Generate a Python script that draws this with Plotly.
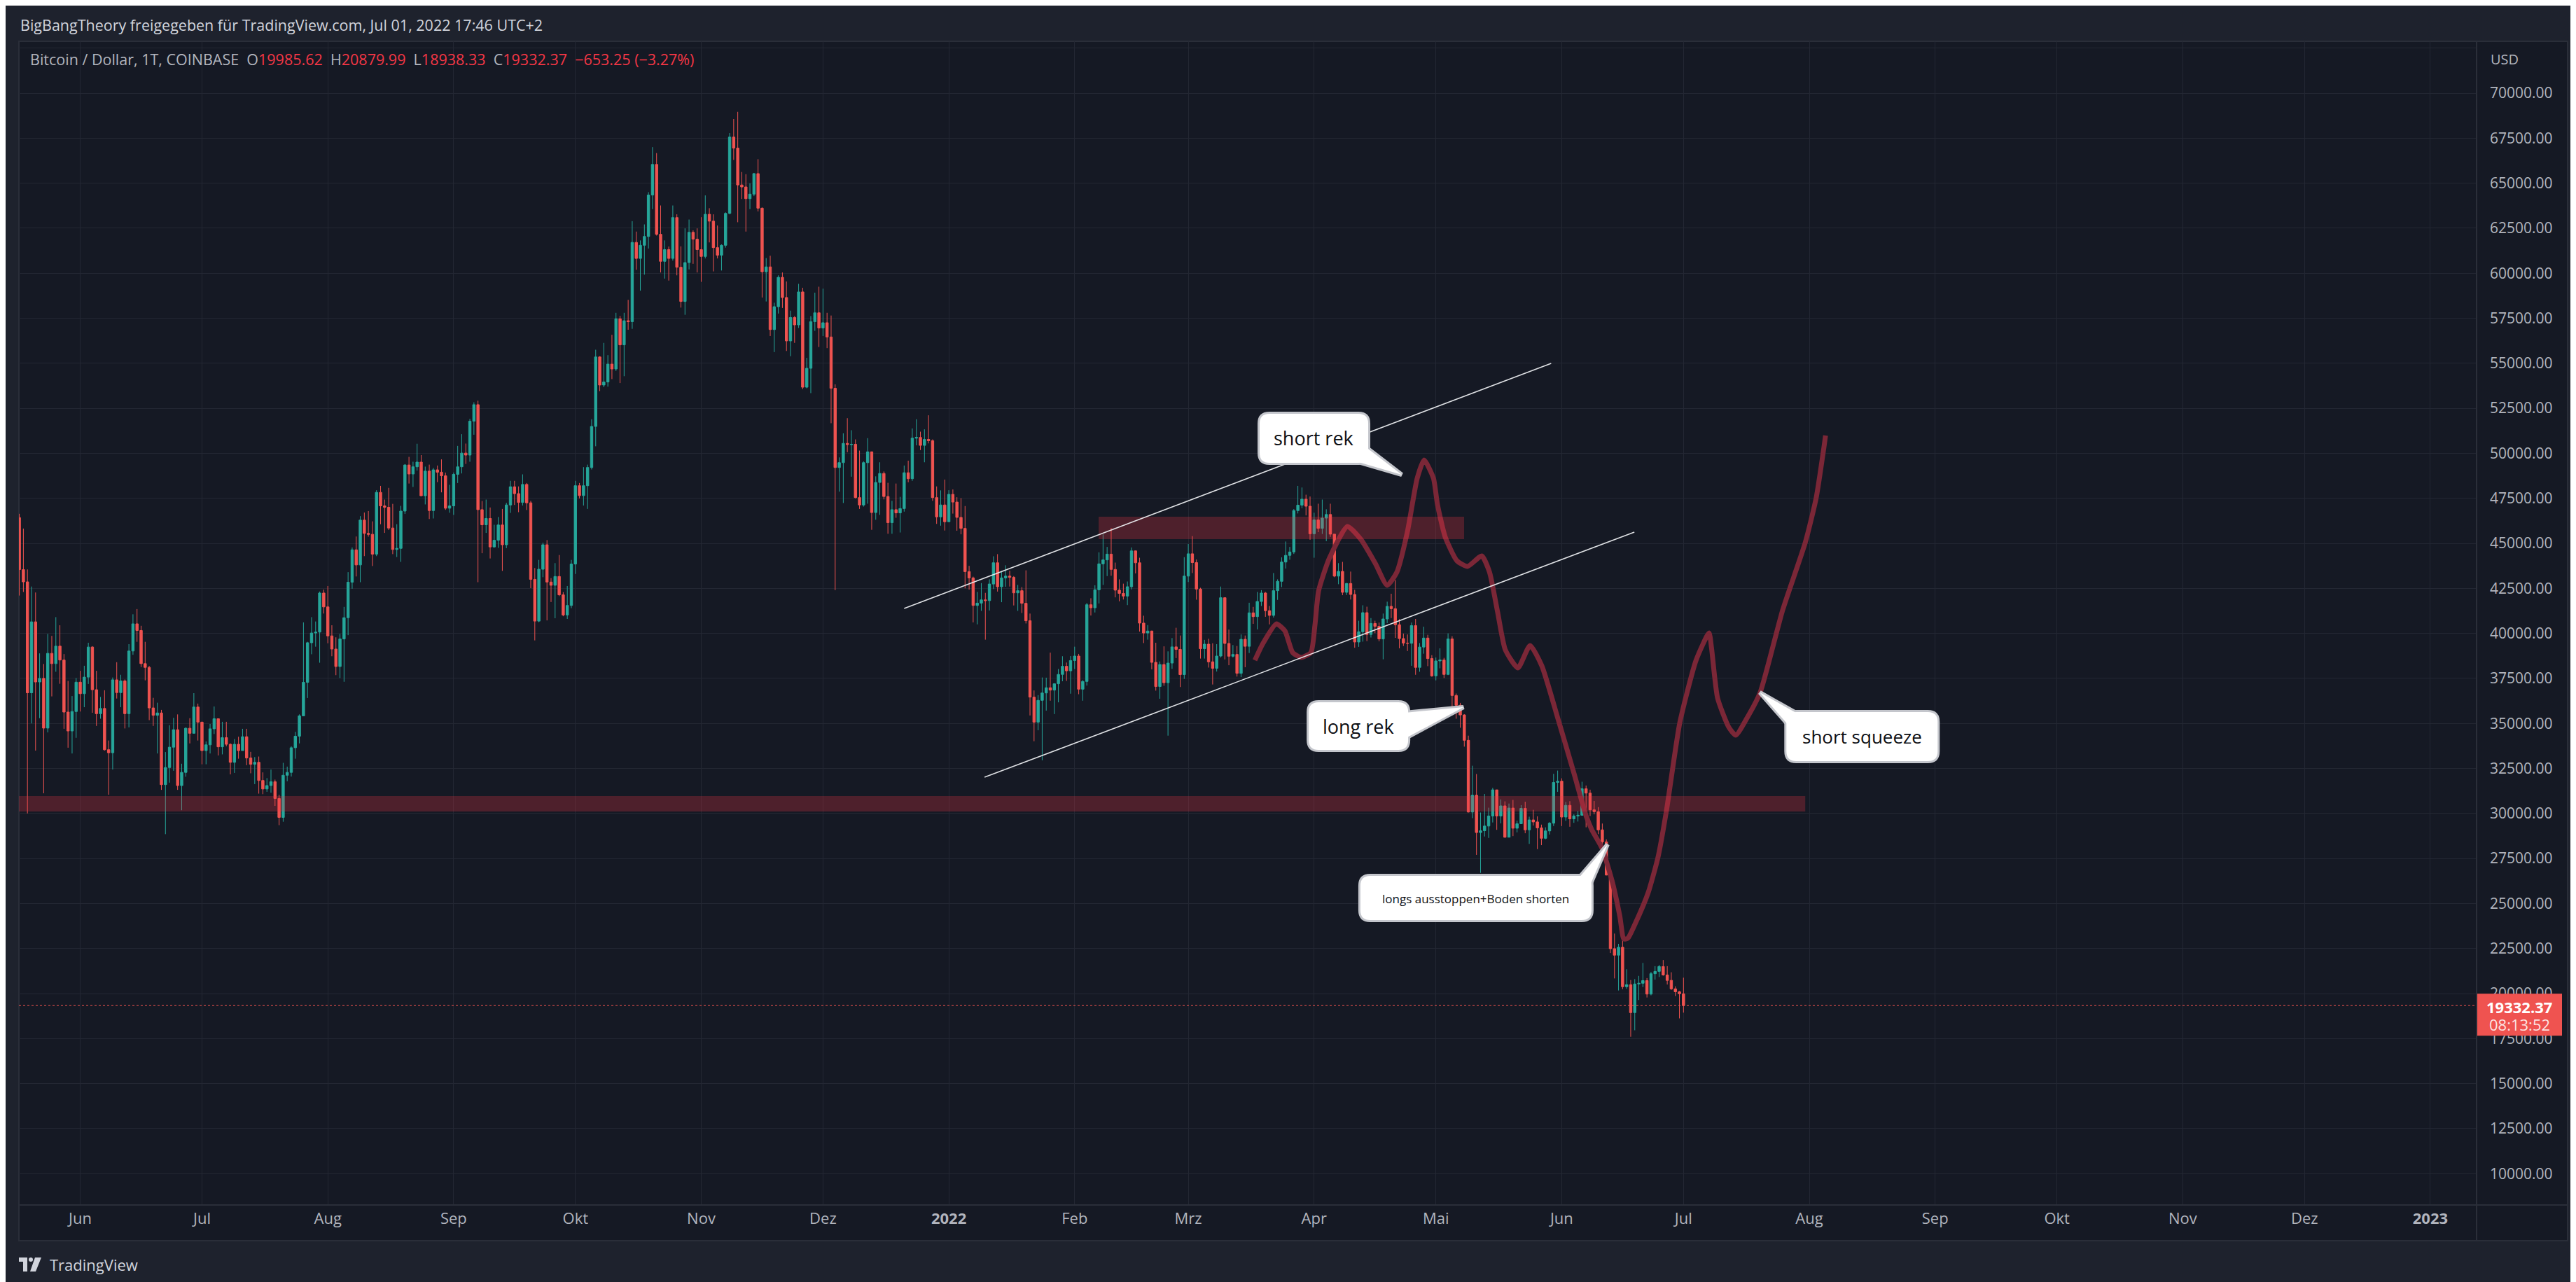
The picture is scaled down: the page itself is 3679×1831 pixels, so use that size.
import pandas as pd
import plotly.graph_objects as go

# ------------------------------------------------------------------ data
START = "2021-05-17"          # first daily candle
first_open = 46430.0

close = [
    # May 2021 (17-31)
    43540, 42860, 36700, 40640, 37300, 37500, 34740, 38890, 38320, 39290, 38520, 35630, 34580, 35660, 37290,
    # Jun 2021
    36650, 37570, 39240, 36870, 35540, 35830, 33540, 33370, 37420, 36710, 37360, 35540, 39020, 40530, 40160,
    38320, 38110, 35860, 35450, 35580, 31600, 32550, 33680, 34650, 31550, 32280, 34730, 34450, 35910, 35070,
    # Jul 2021
    33490, 33810, 34700, 35260, 33700, 34210, 33840, 32840, 33840, 33490, 34260, 33080, 32730, 32840, 31830,
    31360, 31550, 31760, 30830, 29780, 32120, 32280, 33650, 34290, 35420, 37280, 39480, 40020, 40070, 42240, 41470,
    # Aug 2021
    39860, 39130, 38160, 39690, 40870, 42840, 44640, 43800, 46290, 45550, 45500, 44400, 47830, 47080, 47000,
    45850, 44660, 44720, 46790, 49350, 48850, 49250, 49510, 47640, 49010, 46820, 49080, 48950, 48750, 46950, 47080,
    # Sep 2021
    48830, 49250, 50010, 49900, 51780, 52700, 46870, 46030, 46380, 44800, 45170, 46020, 44920, 47130, 48140,
    47760, 47270, 48270, 47250, 43000, 40680, 43560, 44920, 42850, 42670, 43160, 42140, 41020, 41550, 43850,
    # Oct 2021
    48200, 47650, 48200, 49210, 51490, 55350, 53790, 53960, 54950, 54680, 57470, 56020, 57360, 57310, 61710,
    60820, 61550, 62040, 64340, 66040, 62160, 60660, 61310, 60820, 63090, 60330, 58430, 60590, 62270, 61890, 61310,
    # Nov 2021
    60930, 63270, 62890, 61420, 61000, 61550, 63320, 67560, 66950, 64900, 64790, 64140, 64390, 65530, 63610,
    60080, 60350, 56870, 58140, 59770, 58650, 56240, 57540, 57130, 58960, 53670, 54720, 57310, 57800, 56960,
    # Dec 2021
    57250, 56460, 53610, 49210, 49480, 50550, 50480, 50500, 47540, 47130, 49480, 50080, 46710, 48380, 48880,
    47600, 46150, 46870, 46690, 46930, 48920, 48590, 50840, 50880, 50440, 50770, 50700, 47540, 46470, 47130, 46200,
    # Jan 2022
    47720, 47290, 46440, 45830, 43430, 43080, 41550, 41680, 41860, 41820, 42740, 43920, 42590, 43080, 43180,
    43110, 42250, 42370, 41670, 40700, 36460, 35070, 36280, 36690, 36980, 36850, 37200, 37720, 38170, 37920, 38490,
    # Feb 2022
    38740, 36900, 37330, 41590, 41420, 42420, 43860, 44080, 44400, 43550, 42400, 42220, 42070, 42590, 44580,
    43920, 40570, 40020, 40130, 38390, 37050, 38270, 37260, 38350, 39250, 39110, 37710, 43180,
    # Mar 2022
    44420, 43930, 42460, 39150, 39400, 38420, 38060, 38740, 41980, 39440, 38730, 38830, 37780, 39670, 39280,
    41140, 40930, 41770, 42240, 41260, 41000, 42370, 42890, 43960, 44330, 44520, 46820, 47120, 47450, 47060, 45530,
    # Apr 2022
    46300, 45830, 46400, 46600, 45510, 43180, 43440, 42280, 42770, 42160, 39520, 40090, 41150, 39940, 40550,
    40390, 39690, 40800, 41500, 41370, 40480, 39710, 39460, 39450, 40430, 38110, 39240, 39740, 38600, 37640,
    # May 2022
    38470, 38520, 37720, 39690, 36550, 36010, 35470, 34060, 30080, 31010, 28940, 29040, 29300, 29860, 31310,
    29860, 30420, 28680, 30300, 29180, 29430, 30280, 29090, 29640, 29530, 29200, 28620, 29030, 29460, 31720, 31790,
    # Jun 2022
    29800, 30450, 29700, 29860, 29900, 31370, 31130, 30200, 30100, 29090, 28420, 26580, 22490, 22130, 22570,
    20380, 20490, 18940, 20530, 20570, 20720, 19970, 21100, 21230, 21500, 21030, 20730, 20260, 20100, 19985.62,
    # Jul 1 2022
    19332.37,
]

high = [
    46640, 45820, 43550, 42600, 42270, 38890, 38300, 39970, 39860, 40900, 40450, 38850, 37360, 36520, 37520,
    37920, 38200, 39480, 39290, 37920, 36470, 36840, 34050, 37550, 38400, 37700, 37440, 39400, 41060, 41350,
    40420, 39530, 38190, 36420, 36150, 35750, 33410, 34900, 35310, 35500, 32760, 34780, 35290, 36680, 36100,
    35100, 34000, 34970, 35940, 35260, 35090, 35090, 33890, 34130, 34260, 34700, 34700, 33420, 33130, 33160,
    32280, 31960, 32440, 31880, 31040, 32810, 32600, 33730, 34530, 35500, 40610, 39530, 40900, 40660, 42320, 42430,
    42630, 40450, 39780, 39970, 41470, 43400, 44770, 45380, 46510, 46710, 46790, 46220, 47950, 48190, 47430,
    48080, 47190, 46060, 47080, 49400, 49800, 49530, 50530, 49900, 49260, 49370, 49190, 49320, 49660, 48930, 48250,
    48930, 50410, 51060, 50540, 51910, 52830, 52920, 47350, 47430, 46990, 46030, 46460, 46910, 47250, 48470,
    48470, 48160, 48830, 48350, 47360, 43630, 44080, 45040, 45180, 43070, 43900, 44350, 42290, 42630, 44080,
    48470, 48350, 49230, 49370, 51890, 55750, 55390, 56130, 55450, 56580, 57800, 57630, 57800, 58520, 62890,
    62310, 61820, 62710, 64500, 67000, 66670, 63760, 61820, 61480, 63760, 63270, 61490, 62490, 62980, 62380, 62490,
    63110, 64320, 63610, 63270, 62650, 61600, 63380, 67780, 68560, 68960, 65620, 65500, 64990, 65570, 66330,
    63650, 60840, 60970, 58360, 59880, 60040, 59540, 57920, 57620, 59410, 59190, 55300, 57620, 58920, 59250,
    59140, 57800, 57650, 53830, 49770, 51110, 51950, 51280, 50770, 50150, 49550, 50840, 50100, 48720, 49500,
    48990, 48360, 47360, 48320, 47580, 49320, 49590, 51380, 51890, 51200, 51330, 52110, 50770, 48160, 47940, 48540,
    47950, 47990, 47560, 47510, 47070, 43750, 43150, 42300, 42790, 42250, 43000, 44280, 44400, 43450, 43780,
    43480, 43180, 42690, 42570, 43500, 41100, 36830, 36570, 37550, 37540, 38930, 37230, 38020, 38730, 38380, 38740,
    39260, 38860, 37400, 41690, 41950, 42670, 44500, 45500, 44800, 45850, 43930, 43000, 42760, 42880, 44770,
    44600, 44200, 40980, 40460, 40150, 39480, 38440, 39280, 39000, 39740, 40310, 39880, 44230,
    44960, 45400, 44100, 42530, 39640, 39700, 39450, 39400, 42600, 42000, 40210, 39350, 39300, 39940, 39880,
    41700, 41470, 42300, 42400, 42300, 41520, 43350, 43000, 44220, 45100, 44800, 46900, 48190, 48100, 47700, 47600,
    46700, 47200, 47430, 46890, 47200, 45510, 43900, 43970, 42800, 43430, 42420, 40700, 41560, 41480, 40850,
    40700, 40600, 41100, 41760, 42200, 42960, 40790, 39990, 39940, 40600, 40800, 39460, 40370, 39920, 38790,
    38660, 39170, 38640, 40000, 39840, 36660, 36140, 35510, 34320, 32650, 32190, 30050, 31080, 30320, 31420,
    31310, 30780, 30670, 30550, 30750, 29600, 30460, 30650, 29820, 30200, 29840, 29380, 29230, 29520, 32200, 32380,
    31950, 30640, 30680, 29950, 30140, 31760, 31550, 31320, 30690, 30350, 29440, 28560, 26900, 23330, 22760,
    22980, 21350, 20750, 20800, 20980, 21700, 20860, 21200, 21520, 21590, 21860, 21520, 21180, 20400, 20140,
    20879.99,
]

low = [
    42100, 42300, 30000, 35000, 33490, 35290, 31120, 34500, 36500, 37870, 37200, 34700, 33650, 33330, 34200,
    35660, 35900, 37190, 35590, 34860, 35260, 33490, 31040, 32440, 36380, 35900, 34720, 34780, 38810, 39530,
    38130, 37390, 35180, 34860, 33330, 31310, 28850, 31710, 32370, 31310, 30180, 32040, 33890, 34450, 34050,
    32730, 32730, 33330, 34410, 33220, 33280, 33730, 32170, 32250, 33040, 33490, 32680, 32230, 31630, 31100,
    31070, 31200, 31150, 30420, 29350, 29540, 31790, 32050, 33040, 33890, 35430, 36410, 38840, 39260, 38370, 41100,
    39450, 38730, 37680, 37520, 37310, 39900, 42480, 43160, 42840, 44290, 45370, 43740, 44290, 46060, 45580,
    45740, 44400, 44240, 43970, 46630, 48320, 48130, 49040, 47630, 47160, 46350, 46380, 48400, 47830, 46860, 46700,
    46580, 48350, 48880, 49410, 49530, 51030, 42840, 44450, 45580, 44160, 44760, 44750, 43470, 44730, 46690,
    47130, 46730, 47100, 46850, 42510, 39610, 40620, 43120, 40720, 41740, 40840, 42070, 40950, 40800, 41400,
    43300, 47490, 47100, 46910, 49100, 50390, 53450, 53670, 53700, 54120, 54570, 53900, 54280, 56860, 56910,
    60190, 59030, 59920, 61370, 63560, 62090, 60040, 59700, 59590, 60700, 59880, 58090, 57690, 60210, 60520, 60040,
    59520, 60820, 61710, 60100, 60820, 60150, 61420, 63270, 66290, 62830, 64120, 62310, 63560, 64280, 63430,
    58650, 58430, 56510, 55620, 57760, 58070, 55680, 55390, 56130, 56960, 53560, 53610, 53340, 56800, 55900,
    56510, 55840, 51670, 42400, 47870, 47240, 50060, 48700, 47490, 46910, 47040, 47200, 45750, 46310, 46580,
    47440, 45530, 45530, 46420, 45600, 46760, 48390, 48470, 50440, 50180, 49500, 50550, 47360, 46080, 45980, 45710,
    46210, 46650, 45700, 45500, 42500, 42430, 40610, 40500, 41250, 39650, 41270, 42460, 42320, 41730, 42590,
    42600, 41550, 41250, 41130, 40550, 35440, 34010, 34620, 32950, 35710, 36260, 35520, 36170, 37340, 37360, 36650,
    38020, 36620, 36260, 37100, 40990, 41160, 41660, 42690, 43180, 43200, 42000, 41780, 41880, 41570, 42440,
    43330, 40100, 39460, 39650, 38000, 36820, 36370, 37090, 34320, 38030, 38630, 37020, 37470,
    42850, 43350, 41870, 38600, 38600, 38100, 37160, 37880, 38660, 38550, 38230, 38660, 37600, 37570, 38120,
    38910, 40530, 40220, 41520, 40920, 40500, 40880, 41860, 42570, 43600, 44090, 44410, 46660, 46950, 46550, 45200,
    44200, 45620, 45520, 45120, 45360, 43120, 42730, 42120, 42130, 41880, 39200, 39250, 39540, 39570, 39770,
    40010, 39560, 38560, 40570, 40850, 39750, 39170, 39300, 39020, 38200, 37700, 37870, 38870, 38180, 37590,
    37390, 38060, 37520, 37680, 35850, 35260, 34760, 33710, 30050, 29740, 27700, 26700, 28720, 28640, 29500,
    29090, 29450, 28650, 28700, 28740, 28950, 29450, 28900, 28310, 29330, 28020, 28240, 28570, 28830, 29300, 31200,
    29300, 29590, 29260, 29480, 29550, 29880, 29230, 29860, 29950, 28850, 28120, 26560, 22250, 20840, 20170,
    20240, 20260, 17600, 17960, 19640, 20360, 19780, 19900, 20770, 20920, 20990, 20500, 20200, 19860, 18620,
    18938.33,
]

# x-axis month ticks
month_ticks = ["2021-06-01", "2021-07-01", "2021-08-01", "2021-09-01", "2021-10-01", "2021-11-01",
               "2021-12-01", "2022-01-01", "2022-02-01", "2022-03-01", "2022-04-01", "2022-05-01",
               "2022-06-01", "2022-07-01", "2022-08-01", "2022-09-01", "2022-10-01", "2022-11-01",
               "2022-12-01", "2023-01-01"]
month_labels = ["Jun", "Jul", "Aug", "Sep", "Okt", "Nov", "Dez", "<b>2022</b>", "Feb", "Mrz", "Apr", "Mai",
                "Jun", "Jul", "Aug", "Sep", "Okt", "Nov", "Dez", "<b>2023</b>"]

# projected path (days after 2022-01-01, price)
curve_ref = "2022-01-01"
curve_day = [75.4, 77.3, 80.7, 82.8, 84.7, 86.8, 89.2, 90.2, 91.1, 93.7, 98.2, 101.6, 105.1, 108.0, 110.4,
             113.0, 115.4, 117.1, 119.4, 120.4, 122.3, 125.2, 127.8, 131.3, 133.2, 135.2, 137.1, 140.2,
             143.2, 146.1, 150.1, 154.0, 157.0, 158.4, 160.9, 163.4, 165.3, 166.3, 167.3, 169.2, 172.3,
             174.7, 176.8, 180.1, 184.1, 187.3, 187.9, 189.4, 192.2, 193.9, 196.7, 199.9, 205.4, 211.0,
             213.7, 215.6, 216.0]
curve_price = [38507, 39401, 40529, 40140, 38935, 38663, 38935, 40451, 42356, 44145, 45933, 45194, 43873,
               42667, 43406, 45661, 48616, 49627, 48616, 47138, 45350, 44028, 43717, 44300, 43406, 41190,
               39090, 38079, 39323, 38196, 35241, 32247, 29876, 29098, 28087, 26260, 24316, 23033, 23072,
               23927, 25599, 27543, 30148, 35047, 38507, 40023, 39207, 36407, 34774, 34347, 35319, 36719,
               41267, 45039, 47527, 50327, 50988]

# channel lines
trend_x0 = ["2021-12-21 00:00", "2022-01-09 19:12"]
trend_y0 = [41384, 32014]
trend_x1 = ["2022-05-29 09:36", "2022-06-18 21:36"]
trend_y1 = [54992, 45622]

# horizontal zones
zone_x0 = ["2022-02-06 21:36", "2021-05-01 00:00"]
zone_x1 = ["2022-05-07 23:00", "2022-07-31 00:00"]
zone_lo = [45230, 30110]
zone_hi = [46480, 30960]

# callouts: anchor (tip) in data coordinates
callout_text = ["short rek", "long rek", "short squeeze", "longs ausstoppen+Boden shorten"]
callout_date = ["2022-04-22 14:24", "2022-05-07 19:12", "2022-07-19 19:12", "2022-06-12 07:12"]
callout_price = [48810, 35902, 36719, 28281]

price_ticks = list(range(10000, 72501, 2500))

# ------------------------------------------------------------------ styles / geometry
UP, DN = "#26a69a", "#ef5350"
BG_OUT, BG_IN = "#1e222d", "#151924"
GRID = "#232733"
BORDER = "#2a2e39"
AXTXT = "#b2b5be"
FONT = "Open Sans, Noto Sans, sans-serif"

W, H = 3679, 1831
PL, PR, PT, PB = 19, 3529, 51, 1713
FR_R, FR_B = 3659, 1764


def px(x):
    return (x - PL) / (PR - PL)


def py(y):
    return (PB - y) / (PB - PT)


# callout geometry (pixels relative to tip, y up): box l,r,top,bottom ; tail base points ; text offset ; font
callout_geo = [
    dict(box=(-203, -48, 87, 17), tail=((-72, 21), (-52, 40)), txt=(-126, 53), size=27),
    dict(box=(-221, -79, 7, -61), tail=((-84, -8), (-84, -45)), txt=(-150, -27), size=27),
    dict(box=(38, 254, -28, -98), tail=((42, -48), (57, -32)), txt=(146, -63), size=26),
    dict(box=(-353, -23, -45, -108), tail=((-42, -49), (-27, -63)), txt=(-188, -77), size=17),
]

# ------------------------------------------------------------------ build
dates = pd.date_range(START, periods=len(close), freq="D")
opens = [first_open] + close[:-1]
hi = [max(h, o, c) for h, o, c in zip(high, opens, close)]
lo = [min(l, o, c) for l, o, c in zip(low, opens, close)]
curve_x = pd.Timestamp(curve_ref) + pd.to_timedelta(curve_day, unit="D")

fig = go.Figure()
fig.add_trace(go.Candlestick(
    x=dates, open=opens, high=hi, low=lo, close=close,
    increasing=dict(line=dict(color=UP, width=1), fillcolor=UP),
    decreasing=dict(line=dict(color=DN, width=1), fillcolor=DN),
    whiskerwidth=0, hoverinfo="skip", showlegend=False))
fig.add_trace(go.Scatter(
    x=curve_x, y=curve_price, mode="lines",
    line=dict(color="#7b2737", width=7, shape="spline", smoothing=0.55),
    hoverinfo="skip", showlegend=False))

shapes = []
# frame background and borders
shapes.append(dict(type="rect", xref="paper", yref="paper", x0=px(PL), x1=px(FR_R), y0=py(FR_B), y1=py(PT),
                   fillcolor=BG_IN, line=dict(color=BORDER, width=2), layer="below"))
# zones
for x0, x1, y0, y1 in zip(zone_x0, zone_x1, zone_lo, zone_hi):
    shapes.append(dict(type="rect", xref="x", yref="y", x0=x0, x1=x1, y0=y0, y1=y1,
                       fillcolor="rgba(242,54,69,0.26)", line=dict(width=0), layer="above"))
# channel lines
for x0, x1, y0, y1 in zip(trend_x0, trend_x1, trend_y0, trend_y1):
    shapes.append(dict(type="line", xref="x", yref="y", x0=x0, x1=x1, y0=y0, y1=y1,
                       line=dict(color="rgba(235,237,240,0.95)", width=1.6), layer="above"))
# current price line
shapes.append(dict(type="line", xref="paper", yref="y", x0=0, x1=1, y0=close[-1], y1=close[-1],
                   line=dict(color=DN, width=1, dash="dot"), layer="above"))


def rrect(l, r, t, b, rad=14):
    return (f"M {l+rad},{t} L {r-rad},{t} Q {r},{t} {r},{t-rad} L {r},{b+rad} Q {r},{b} {r-rad},{b} "
            f"L {l+rad},{b} Q {l},{b} {l},{b+rad} L {l},{t-rad} Q {l},{t} {l+rad},{t} Z")


def tri(p1, p2):
    return f"M {p1[0]},{p1[1]} L 0,0 L {p2[0]},{p2[1]} Z"


annotations = []
for text, d, p, g in zip(callout_text, callout_date, callout_price, callout_geo):
    l, r, t, b = g["box"]
    base = dict(type="path", xref="x", yref="y", xsizemode="pixel", ysizemode="pixel",
                xanchor=d, yanchor=p, layer="above")
    # border layer
    shapes.append(dict(base, path=rrect(l, r, t, b), fillcolor="#c4c6cc", line=dict(color="#c4c6cc", width=6)))
    shapes.append(dict(base, path=tri(*g["tail"]), fillcolor="#c4c6cc", line=dict(color="#c4c6cc", width=6)))
    # white fill layer
    shapes.append(dict(base, path=rrect(l, r, t, b), fillcolor="white", line=dict(width=0)))
    shapes.append(dict(base, path=tri(*g["tail"]), fillcolor="white", line=dict(width=0)))
    annotations.append(dict(xref="x", yref="y", x=d, y=p, xshift=g["txt"][0], yshift=g["txt"][1],
                            text=text, showarrow=False, xanchor="center", yanchor="middle",
                            font=dict(family=FONT, size=g["size"], color="#0d0f14")))

# axis separators
shapes.append(dict(type="line", xref="paper", yref="paper", x0=px(PL), x1=px(FR_R), y0=0, y1=0,
                   line=dict(color=BORDER, width=2), layer="above"))
shapes.append(dict(type="line", xref="paper", yref="paper", x0=1, x1=1, y0=py(FR_B), y1=py(PT),
                   line=dict(color=BORDER, width=2), layer="above"))
# price label on axis
shapes.append(dict(type="rect", xref="paper", yref="y", ysizemode="pixel", yanchor=close[-1],
                   x0=px(PR + 1), x1=px(3651), y0=17, y1=-43, fillcolor=DN, line=dict(width=0), layer="above"))

# TradingView logo (bottom-left)
LOGO = "#d1d4dc"
shapes.append(dict(type="rect", xref="paper", yref="paper", x0=px(19), x1=px(31), y0=py(1794), y1=py(1788),
                   fillcolor=LOGO, line=dict(width=0)))
shapes.append(dict(type="rect", xref="paper", yref="paper", x0=px(25), x1=px(31), y0=py(1808), y1=py(1788),
                   fillcolor=LOGO, line=dict(width=0)))
shapes.append(dict(type="circle", xref="paper", yref="paper", x0=px(33), x1=px(39), y0=py(1794), y1=py(1788),
                   fillcolor=LOGO, line=dict(width=0)))
shapes.append(dict(type="path", xref="paper", yref="paper",
                   path=f"M {px(42)},{py(1788)} L {px(51)},{py(1788)} L {px(43)},{py(1808)} L {px(35)},{py(1808)} Z",
                   fillcolor=LOGO, line=dict(width=0)))

# header texts
chg = close[-1] - opens[-1]
pct = chg / opens[-1] * 100
RED = "#f23645"
GRY = "#b2b5be"
sp = "\u00a0\u00a0"
legend_txt = (f"<span style='color:{GRY}'>Bitcoin / Dollar, 1T, COINBASE{sp}O</span>"
              f"<span style='color:{RED}'>{opens[-1]:.2f}</span>"
              f"<span style='color:{GRY}'>{sp}H</span><span style='color:{RED}'>{hi[-1]:.2f}</span>"
              f"<span style='color:{GRY}'>{sp}L</span><span style='color:{RED}'>{lo[-1]:.2f}</span>"
              f"<span style='color:{GRY}'>{sp}C</span><span style='color:{RED}'>{close[-1]:.2f}</span>"
              f"<span style='color:{RED}'>{sp}{chg:.2f} ({pct:.2f}%)</span>").replace("-", "\u2212")

annotations += [
    dict(xref="paper", yref="paper", x=px(19), y=py(27), xanchor="left", yanchor="middle", showarrow=False,
         text="BigBangTheory freigegeben für TradingView.com, Jul 01, 2022 17:46 UTC+2",
         font=dict(family=FONT, size=21.5, color="#d1d4dc")),
    dict(xref="paper", yref="paper", x=px(33), y=py(76), xanchor="left", yanchor="middle", showarrow=False,
         text=legend_txt, font=dict(family=FONT, size=21.5, color=GRY)),
    dict(xref="paper", yref="paper", x=px(3547), y=py(76), xanchor="left", yanchor="middle", showarrow=False,
         text="USD", font=dict(family=FONT, size=20, color=AXTXT)),
    dict(xref="paper", yref="y", x=px(3590), y=close[-1], yshift=-2, xanchor="center", yanchor="middle",
         showarrow=False, text=f"<b>{close[-1]:.2f}</b>", font=dict(family=FONT, size=22, color="white")),
    dict(xref="paper", yref="y", x=px(3590), y=close[-1], yshift=-27, xanchor="center", yanchor="middle",
         showarrow=False, text="08:13:52", font=dict(family=FONT, size=22, color="rgba(255,255,255,0.85)")),
    dict(xref="paper", yref="paper", x=px(61), y=py(1798), xanchor="left", yanchor="middle", showarrow=False,
         text="TradingView", font=dict(family=FONT, size=22, color="#d1d4dc")),
]

fig.update_layout(
    width=W, height=H,
    margin=dict(l=PL, r=W - PR, t=PT, b=H - PB, pad=0),
    paper_bgcolor=BG_OUT, plot_bgcolor=BG_IN,
    showlegend=False,
    boxgap=0.16,
    shapes=shapes, annotations=annotations,
    font=dict(family=FONT, color=AXTXT),
    xaxis=dict(type="date", range=["2021-05-16 21:30", "2023-01-12 09:30"],
               tickmode="array", tickvals=month_ticks, ticktext=month_labels,
               showgrid=True, gridcolor=GRID, gridwidth=1, zeroline=False, ticks="",
               showline=False, tickfont=dict(family=FONT, size=22, color=AXTXT),
               ticklabelstandoff=4, rangeslider=dict(visible=False), fixedrange=True),
    yaxis=dict(side="right", range=[8258, 72877], tickmode="array", tickvals=price_ticks,
               ticktext=[f"{v:.2f}" if v <= 70000 else "" for v in price_ticks],
               showgrid=True, gridcolor=GRID, gridwidth=1, zeroline=False, ticks="",
               showline=False, tickfont=dict(family=FONT, size=21, color=AXTXT),
               ticklabelstandoff=18, fixedrange=True),
)

fig.write_html("out.html")
